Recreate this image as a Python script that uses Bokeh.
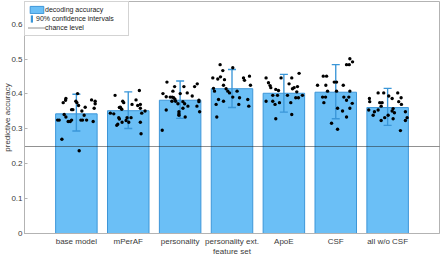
from bokeh.plotting import figure
from bokeh.models import (Range1d, FixedTicker, NumeralTickFormatter,
                          Legend, LegendItem, ColumnDataSource)
from bokeh.embed import file_html
from bokeh.resources import INLINE

categories = ["base model", "mPerAF", "personality", "personality ext.", "ApoE", "CSF", "all w/o CSF"]
mean_acc = [0.343, 0.352, 0.382, 0.415, 0.402, 0.405, 0.361]
ci_low = [0.294, 0.301, 0.330, 0.361, 0.348, 0.329, 0.310]
ci_high = [0.399, 0.406, 0.437, 0.470, 0.456, 0.484, 0.416]
chance = 0.25
y_ticks = [0, 0.1, 0.2, 0.3, 0.4, 0.5, 0.6]

base_vals = [0.401, 0.387, 0.382, 0.375, 0.379, 0.375, 0.367, 0.355, 0.355, 0.351, 0.362, 0.383, 0.379, 0.372, 0.359,
             0.341, 0.334, 0.325, 0.325, 0.321, 0.321, 0.325, 0.325, 0.325, 0.325, 0.321, 0.339, 0.270, 0.237]
base_jit = [0.023, -0.202, -0.208, -0.254, -0.010, 0.010, 0.042, -0.092, -0.067, 0.106, 0.170, 0.293, 0.362, 0.362, 0.343,
            -0.235, -0.202, -0.362, -0.331, -0.158, -0.119, -0.092, 0.087, 0.119, 0.197, 0.324, 0.150, -0.279, 0.054]

mperaf_vals = [0.410, 0.396, 0.379, 0.375, 0.383, 0.370, 0.367, 0.370, 0.359, 0.361, 0.356, 0.362, 0.345, 0.332, 0.328,
               0.332, 0.332, 0.319, 0.319, 0.313, 0.310, 0.324, 0.345, 0.351, 0.319, 0.286, 0.343]
mperaf_jit = [0.214, -0.254, -0.106, -0.087, 0.150, 0.073, 0.183, 0.233, 0.233, -0.171, -0.125, -0.152, -0.345, -0.183,
              -0.171, -0.023, 0.054, 0.010, -0.119, -0.202, -0.222, -0.042, 0.260, 0.324, 0.233, 0.247, -0.279]

pers_vals = [0.434, 0.421, 0.421, 0.429, 0.421, 0.408, 0.401, 0.403, 0.401, 0.392, 0.391, 0.389, 0.385, 0.391, 0.394, 0.379,
             0.379, 0.378, 0.372, 0.382, 0.378, 0.372, 0.365, 0.365, 0.359, 0.354, 0.349, 0.343, 0.339, 0.334, 0.349, 0.296]
pers_jit = [-0.254, -0.106, 0.073, 0.330, 0.279, -0.139, 0.002, 0.137, -0.331, -0.268, -0.152, -0.125, -0.100, -0.191, 0.233,
            -0.158, -0.087, 0.054, 0.087, 0.362, 0.362, -0.042, 0.150, 0.324, 0.054, -0.268, -0.023, -0.023, -0.023, 0.098,
            0.376, -0.345]

persext_vals = [0.484, 0.475, 0.467, 0.446, 0.443, 0.449, 0.441, 0.446, 0.439, 0.451, 0.425, 0.425, 0.416, 0.408, 0.415,
                0.408, 0.403, 0.391, 0.408, 0.384, 0.379, 0.370, 0.389, 0.384, 0.370, 0.365, 0.334]
persext_jit = [-0.229, 0.015, -0.177, -0.370, -0.274, -0.222, -0.145, 0.222, 0.241, 0.337, 0.356, -0.164, -0.357, -0.337,
               -0.114, -0.081, -0.048, 0.015, 0.098, -0.260, -0.164, -0.306, 0.145, 0.304, 0.131, 0.324, -0.293]

apoe_vals = [0.446, 0.446, 0.446, 0.459, 0.432, 0.424, 0.418, 0.429, 0.421, 0.415, 0.418, 0.413, 0.410, 0.406, 0.396,
             0.396, 0.396, 0.389, 0.389, 0.396, 0.379, 0.379, 0.375, 0.370, 0.375, 0.341, 0.329]
apoe_jit = [-0.343, -0.054, 0.152, 0.293, -0.297, -0.266, -0.252, 0.100, 0.262, 0.166, 0.197, -0.156, -0.104, 0.249,
            -0.214, -0.123, 0.069, 0.229, 0.281, 0.358, -0.343, -0.214, -0.085, -0.170, 0.133, 0.152, -0.156]

csf_vals = [0.501, 0.492, 0.484, 0.484, 0.451, 0.451, 0.434, 0.434, 0.425, 0.425, 0.425, 0.408, 0.408, 0.408, 0.391, 0.391,
            0.391, 0.391, 0.382, 0.375, 0.373, 0.359, 0.351, 0.359, 0.334, 0.316, 0.299]
csf_jit = [0.272, 0.324, 0.208, 0.260, -0.241, -0.177, -0.029, 0.015, -0.351, -0.191, 0.145, -0.158, 0.015, 0.272, -0.254,
           -0.197, 0.156, 0.252, 0.208, -0.229, 0.318, 0.035, 0.131, 0.272, 0.208, -0.081, 0.035]

allwo_vals = [0.403, 0.403, 0.394, 0.387, 0.403, 0.378, 0.389, 0.370, 0.387, 0.378, 0.375, 0.375, 0.365, 0.358, 0.346,
              0.351, 0.354, 0.349, 0.354, 0.339, 0.339, 0.332, 0.324, 0.329, 0.349, 0.332, 0.324, 0.295]
allwo_jit = [-0.183, -0.075, 0.021, 0.087, 0.195, 0.214, 0.260, 0.266, -0.351, -0.345, -0.152, -0.106, -0.125, 0.106,
             0.131, 0.087, -0.364, -0.254, -0.183, -0.279, 0.010, -0.056, -0.125, 0.106, 0.343, 0.376, 0.343, 0.247]

dot_vals = [base_vals, mperaf_vals, pers_vals, persext_vals, apoe_vals, csf_vals, allwo_vals]
dot_jit = [base_jit, mperaf_jit, pers_jit, persext_jit, apoe_jit, csf_jit, allwo_jit]

FONT = "Liberation Sans"
TXT = "#3a3a3a"
AX = "#b3b3b3"
BAR_FILL = "#6bbff6"
BAR_EDGE = "#3d96d8"
ERR = "#3a96d8"

x_pos = list(range(1, len(categories) + 1))
x_lo, x_hi = 0, len(categories) + 1

p = figure(width=440, height=258, output_backend="svg", toolbar_location=None,
           x_range=Range1d(x_lo, x_hi), y_range=Range1d(0, 0.665), title=None,
           min_border_left=0, min_border_right=1, min_border_top=1, min_border_bottom=0)
p.background_fill_color = "white"
p.border_fill_color = "white"
p.outline_line_color = AX
p.xgrid.visible = False
p.ygrid.visible = False

# bars
bar_src = ColumnDataSource(dict(x=x_pos, top=mean_acc, lo=ci_low, hi=ci_high))
r_bar = p.vbar(x="x", top="top", width=0.8, source=bar_src, fill_color=BAR_FILL,
               line_color=BAR_EDGE, line_width=1)

# chance level
r_chance = p.hspan(y=[chance], line_color="#222222", line_width=1, line_dash="1 1")

# error bars (stems as thin bars, caps as dashes)
r_ci = p.vbar(x="x", bottom="lo", top="hi", width=0.026, source=bar_src,
              fill_color=ERR, line_color=None)
p.scatter(x="x", y="lo", source=bar_src, marker="dash", size=8, line_color=ERR, line_width=1.4)
p.scatter(x="x", y="hi", source=bar_src, marker="dash", size=8, line_color=ERR, line_width=1.4)

# dots
dx, dy = [], []
for xc, jit, vals in zip(x_pos, dot_jit, dot_vals):
    for j, v in zip(jit, vals):
        dx.append(xc + j)
        dy.append(v)
p.scatter(x=dx, y=dy, size=3.4, fill_color="black", line_color=None)

# axes
xa = p.xaxis[0]
xa.ticker = FixedTicker(ticks=x_pos)
xa.major_label_overrides = {x: c for x, c in zip(x_pos, categories)}
xa.axis_label = "feature set"
ya = p.yaxis[0]
ya.ticker = FixedTicker(ticks=y_ticks)
ya.formatter = NumeralTickFormatter(format="0.[0]")
ya.axis_label = "predictive accuracy"

for ax in (xa, ya):
    ax.major_label_text_font = FONT
    ax.major_label_text_font_size = "8px"
    ax.major_label_text_color = TXT
    ax.axis_label_text_font = FONT
    ax.axis_label_text_font_size = "8px"
    ax.axis_label_text_font_style = "normal"
    ax.axis_label_text_color = TXT
    ax.axis_line_color = AX
    ax.major_tick_line_color = AX
    ax.minor_tick_line_color = None
    ax.major_tick_out = 0
xa.major_tick_in = 0
xa.major_label_standoff = 3
xa.axis_label_standoff = -2
ya.major_tick_in = 3
ya.major_label_standoff = 2
ya.axis_label_standoff = -4

# legend: frame + bar and chance rows
leg_main = Legend(items=[LegendItem(label="decoding accuracy", renderers=[r_bar]),
                         LegendItem(label="chance level", renderers=[r_chance])],
                  location="top_left", margin=0, padding=3, spacing=9,
                  glyph_width=17, glyph_height=9, label_height=9, label_width=80, label_standoff=0,
                  label_text_font=FONT, label_text_font_size="7px", label_text_color="#222222",
                  border_line_color="#a8a8a8", border_line_width=1,
                  background_fill_color="white", background_fill_alpha=1)
p.add_layout(leg_main)

# legend: confidence-interval row (narrow icon), overlaid in the middle row
leg_ci = Legend(items=[LegendItem(label="90% confidence intervals", renderers=[r_ci])],
                location=(6, 210), margin=0, padding=0, spacing=0,
                glyph_width=3, glyph_height=9, label_height=9, label_standoff=3,
                label_text_font=FONT, label_text_font_size="7px", label_text_color="#222222",
                border_line_color=None, background_fill_alpha=0)
p.add_layout(leg_ci)

open("out.html", "w").write(file_html(p, INLINE))
